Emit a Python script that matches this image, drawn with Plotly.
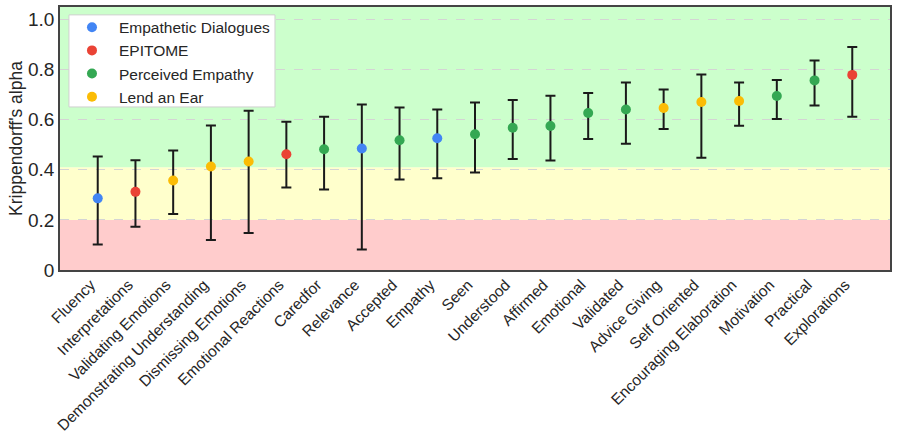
import plotly.graph_objects as go

categories = ["Fluency", "Interpretations", "Validating Emotions", "Demonstrating Understanding",
              "Dismissing Emotions", "Emotional Reactions", "Caredfor", "Relevance", "Accepted",
              "Empathy", "Seen", "Understood", "Affirmed", "Emotional", "Validated", "Advice Giving",
              "Self Oriented", "Encouraging Elaboration", "Motivation", "Practical", "Explorations"]
datasets = ["Empathetic Dialogues", "EPITOME", "Lend an Ear", "Lend an Ear",
            "Lend an Ear", "EPITOME", "Perceived Empathy", "Empathetic Dialogues", "Perceived Empathy",
            "Empathetic Dialogues", "Perceived Empathy", "Perceived Empathy", "Perceived Empathy",
            "Perceived Empathy", "Perceived Empathy", "Lend an Ear",
            "Lend an Ear", "Lend an Ear", "Perceived Empathy", "Perceived Empathy", "EPITOME"]
alpha = [0.286, 0.312, 0.357, 0.413, 0.433, 0.462, 0.482, 0.485, 0.518, 0.526, 0.542, 0.568,
         0.575, 0.627, 0.641, 0.647, 0.671, 0.675, 0.695, 0.757, 0.779]
ci_low = [0.102, 0.173, 0.224, 0.120, 0.148, 0.329, 0.321, 0.082, 0.361, 0.366, 0.389, 0.443,
          0.437, 0.523, 0.504, 0.563, 0.448, 0.576, 0.603, 0.657, 0.612]
ci_high = [0.453, 0.438, 0.477, 0.577, 0.636, 0.592, 0.612, 0.661, 0.649, 0.641, 0.669, 0.679,
           0.696, 0.707, 0.749, 0.721, 0.781, 0.749, 0.759, 0.836, 0.890]

legend_order = ["Empathetic Dialogues", "EPITOME", "Perceived Empathy", "Lend an Ear"]
colors = {"Empathetic Dialogues": "#4285F4", "EPITOME": "#EA4335",
          "Perceived Empathy": "#34A853", "Lend an Ear": "#FBBC05"}

# agreement bands: (low, high, color)
band_edges = [0.0, 0.2, 0.41, 1.05]
band_colors = ["#ffcccc", "#ffffcc", "#ccffcc"]

FONT = "Liberation Sans, Arial, sans-serif"
TXT = "#262626"

fig = go.Figure()
for ds in legend_order:
    idx = [i for i, d in enumerate(datasets) if d == ds]
    fig.add_trace(go.Scatter(
        x=[categories[i] for i in idx],
        y=[alpha[i] for i in idx],
        mode="markers",
        name=ds,
        marker=dict(color=colors[ds], size=10),
        error_y=dict(type="data", symmetric=False,
                     array=[ci_high[i] - alpha[i] for i in idx],
                     arrayminus=[alpha[i] - ci_low[i] for i in idx],
                     color="#1a1a1a", thickness=2, width=5),
    ))

for lo, hi, c in zip(band_edges[:-1], band_edges[1:], band_colors):
    fig.add_shape(type="rect", xref="paper", x0=0, x1=1, yref="y", y0=lo, y1=hi,
                  fillcolor=c, line_width=0, layer="below")

# legend frame
fig.add_shape(type="rect", xref="paper", yref="paper", x0=0.0108, x1=0.259, y0=0.620, y1=0.970,
              fillcolor="white", line=dict(color="#d0d0d0", width=1), layer="above")

fig.update_layout(
    width=897, height=443,
    margin=dict(l=60, r=7, t=7, b=173),
    paper_bgcolor="white", plot_bgcolor="white",
    font=dict(family=FONT, color=TXT, size=15),
    showlegend=True,
    legend=dict(x=0.006, y=0.986, xanchor="left", yanchor="top",
                bgcolor="rgba(0,0,0,0)", borderwidth=0,
                font=dict(size=15.5, color=TXT), itemwidth=44),
)
fig.update_xaxes(
    type="category", categoryorder="array", categoryarray=categories,
    range=[-1, len(categories)], tickangle=-45, tickfont=dict(size=15.5, color=TXT),
    showgrid=False, showline=True, linecolor="#444444", linewidth=1.5, mirror=True,
    ticks="", zeroline=False, automargin=False, ticklabelshift=-7, ticklabelstandoff=-2,
)
fig.update_yaxes(
    range=[0, 1.05], tickvals=[0, 0.2, 0.4, 0.6, 0.8, 1.0],
    ticktext=["0", "0.2", "0.4", "0.6", "0.8", "1.0"], tickfont=dict(size=19, color=TXT),
    showgrid=True, gridcolor="#d4d4d4", griddash="dash", gridwidth=1,
    showline=True, linecolor="#444444", linewidth=1.5, mirror=True, zeroline=False,
    ticks="", automargin=False,
    title=dict(text="Krippendorff's alpha", font=dict(size=17.5, color=TXT), standoff=1),
)

fig.write_html("out.html", config={"displayModeBar": False},
               post_script="document.body.style.margin='0';")
